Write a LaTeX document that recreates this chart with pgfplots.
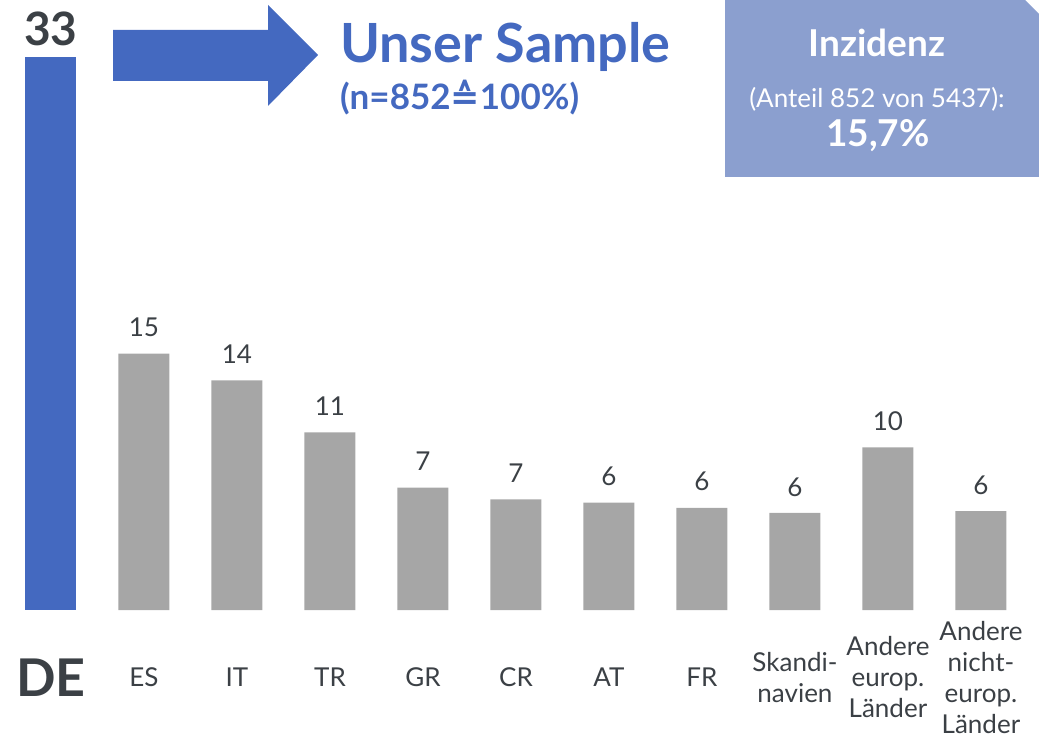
\documentclass[border=0pt]{standalone}
\usepackage{fontspec}
\setmainfont{Lato}
\newfontfamily\dejavu{DejaVu Sans}
\usepackage{pgfplots}
\usepackage{pgfplotstable}
\pgfplotsset{compat=1.18}
\definecolor{barblue}{RGB}{68,105,192}
\definecolor{bargray}{RGB}{166,166,166}
\definecolor{boxblue}{RGB}{139,159,207}
\definecolor{txt}{RGB}{59,64,69}

\pgfplotstableread{
x y label
0 33 33
}\detable
\pgfplotstableread{
x y label
1 15.3 15
2 13.7 14
3 10.6 11
4 7.3 7
5 6.6 7
6 6.4 6
7 6.1 6
8 5.8 6
9 9.7 10
10 5.9 6
}\othertable

\begin{document}
\begin{tikzpicture}
\useasboundingbox (0,0) rectangle (1039pt,737pt);
\begin{axis}[
  at={(0pt,127pt)}, anchor=south west,
  scale only axis, width=1039pt, height=610pt,
  xmin=-0.548, xmax=10.624, ymin=0, ymax=36.4,
  axis line style={draw=none}, tick style={draw=none},
  ytick=\empty,
  xtick={0,...,10},
  xticklabels={{\fontsize{52}{52}\selectfont\bfseries DE},ES,IT,TR,GR,CR,AT,FR,{Skandi-\\navien},{Andere\\europ.\\Länder},{Andere\\nicht-\\europ.\\Länder}},
  xticklabel style={anchor=center, inner sep=0pt, yshift=-63pt, align=center, text=txt, font=\fontsize{26}{31}\selectfont},
  ybar, bar width=51pt, bar shift=0pt,
  clip=false,
  point meta=explicit symbolic,
  nodes near coords,
  every node near coord/.append style={anchor=center, yshift=26pt, text=txt, font=\fontsize{26}{28}\selectfont},
]
\addplot[fill=barblue, draw=none, every node near coord/.append style={yshift=2pt, font=\fontsize{46}{46}\selectfont\bfseries}] table[x=x, y=y, meta=label] {\detable};
\addplot[fill=bargray, draw=none] table[x=x, y=y, meta=label] {\othertable};
\end{axis}
% arrow
\fill[barblue] (113pt,707pt) -- (268pt,707pt) -- (268pt,732pt) -- (318pt,682pt) -- (268pt,631pt) -- (268pt,656pt) -- (113pt,656pt) -- cycle;
\node[anchor=base west, inner sep=0pt, text=barblue, font=\fontsize{54}{54}\selectfont\bfseries] at (340pt,674pt) {Unser Sample};
\node[anchor=base west, inner sep=0pt, text=barblue, font=\fontsize{35}{35}\selectfont\bfseries] at (340pt,627pt) {(n=852{\dejavu\bfseries ≙}100\%)};
% box
\fill[boxblue] (725pt,737pt) -- (1025pt,737pt) -- (1039pt,723pt) -- (1039pt,560pt) -- (725pt,560pt) -- cycle;
\node[anchor=base, inner sep=0pt, text=white, font=\fontsize{37}{37}\selectfont\bfseries] at (877pt,680pt) {Inzidenz};
\node[anchor=base, inner sep=0pt, text=white, font=\fontsize{26}{26}\selectfont] at (877pt,629pt) {(Anteil 852 von 5437):};
\node[anchor=base, inner sep=0pt, text=white, font=\fontsize{37}{37}\selectfont\bfseries] at (878pt,590pt) {15,7\%};
\end{tikzpicture}
\end{document}
